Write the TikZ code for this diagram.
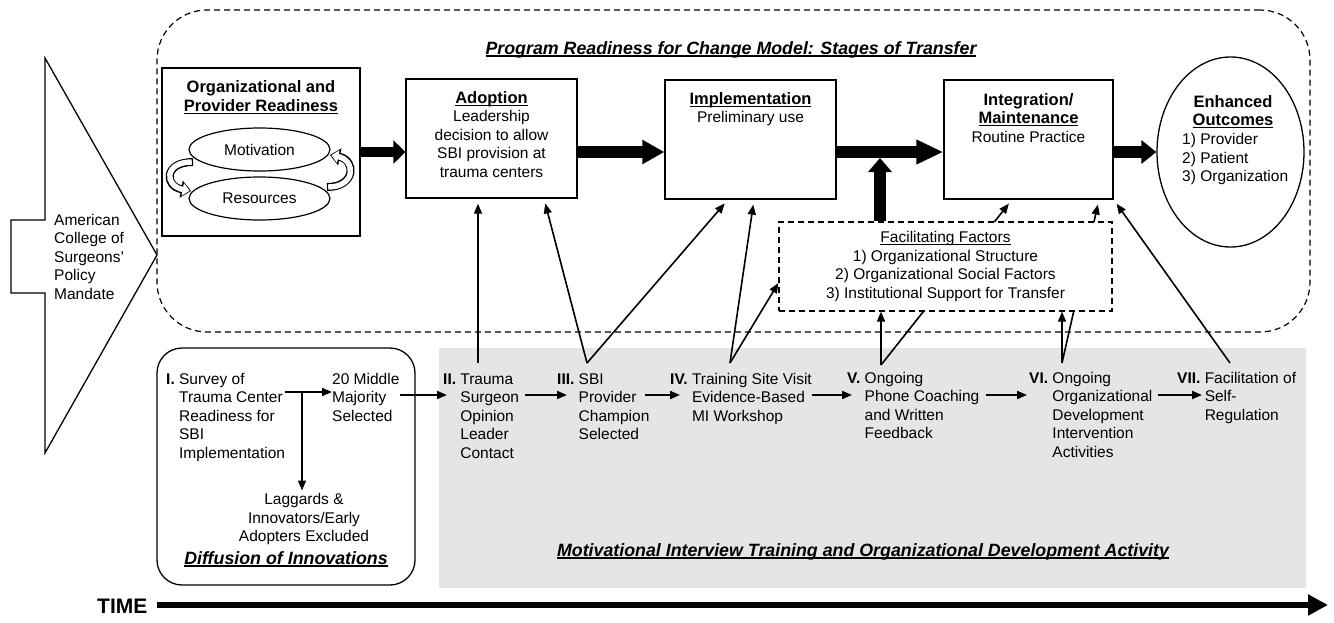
\documentclass[tikz,border=0pt]{standalone}
\usepackage{fontspec}
\setmainfont{Liberation Sans}
\usetikzlibrary{arrows.meta,shapes.geometric,calc}

\newcommand{\bodysz}{\fontsize{15.5}{18.5}\selectfont}
\newcommand{\headsz}{\fontsize{16.5}{19.5}\selectfont\bfseries}
\newcommand{\titlesz}{\fontsize{17.8}{20}\selectfont\bfseries\itshape}
\newcommand{\headtxt}[1]{{\fontsize{16.5}{18.5}\selectfont\bfseries #1}}
\newsavebox{\undlbox}
\newcommand{\undl}[1]{\sbox{\undlbox}{#1}\rlap{\rule[-2.6pt]{\wd\undlbox}{1.2pt}}\usebox{\undlbox}}

\begin{document}
\begin{tikzpicture}[
    x=1pt, y=-1pt,
    >={Triangle[length=10pt,width=8pt]},
    box/.style={
        draw,
        line width=1.3pt,
        inner sep=0pt
    },
    dashbox/.style={draw, line width=1.2pt, dash pattern=on 6pt off 4pt},
    txt/.style={font=\bodysz, inner sep=0pt, align=center},
    stage/.style={font=\bodysz, inner sep=0pt, anchor=base west},
    oval/.style={draw, ellipse, line width=1.2pt, inner sep=0pt, font=\bodysz},
    arr/.style={->, line width=1.6pt},
    steparr/.style={->, line width=2pt},
    bigarr/.style={line width=12pt, -{Triangle[length=#1,width=23pt]}},
    loopout/.style={line width=8pt, -{Triangle[length=10pt,width=17pt]}},
    loopin/.style={line width=5.4pt, white, -{Triangle[length=7pt,width=12.5pt]}, shorten >=1.4pt, shorten <=1.2pt}
]
    \useasboundingbox (0,0) rectangle (1334,622);

    \node[dashbox, rounded corners=50pt, minimum width=1153pt, minimum height=322pt]
        (transfer) at (733.5,171) {};
    \node[font=\titlesz, inner sep=0pt, anchor=base] (transfertitle) at (731,54)
        {\undl{Program Readiness for Change Model: Stages of Transfer}};

    \node[fill=black!10, minimum width=867pt, minimum height=240pt, inner sep=0pt]
        (activity) at (872.5,468) {};
    \node[box, rounded corners=25pt, minimum width=258pt, minimum height=237pt]
        (diffusion) at (286,466.5) {};

    \draw[line width=1.3pt] (45,58) -- (157,255) -- (45,453) -- (45,293)
        -- (11,293) -- (11,220) -- (45,220) -- cycle;
    \node[txt, align=left, anchor=north west] (mandate) at (54,214)
        {American\\College of\\Surgeons'\\Policy\\Mandate};

    \node[box, minimum width=198pt, minimum height=168pt] (readiness) at (261,152) {};
    \node[txt, font=\headsz, anchor=north] (readytitle) at (261,80)
        {Organizational and\\\undl{Provider Readiness}};
    \node[oval, minimum width=141pt, minimum height=43pt] (motivation) at (259.5,149.5) {Motivation};
    \node[oval, minimum width=141pt, minimum height=43pt] (resources) at (259.5,198.5) {Resources};
    \draw[loopout] (193,162) .. controls (164,162) and (164,186) .. (191,191);
    \draw[loopin] (193,162) .. controls (164,162) and (164,186) .. (191,191);
    \draw[loopout] (327,187) .. controls (356,187) and (356,160) .. (330,155);
    \draw[loopin] (327,187) .. controls (356,187) and (356,160) .. (330,155);

    \node[box, minimum width=171pt, minimum height=119pt] (adoption) at (491.5,138.5) {};
    \node[txt, anchor=north] (adopttext) at (491.5,91)
        {\headtxt{\undl{Adoption}}\\Leadership\\decision to allow\\SBI provision at\\trauma centers};

    \node[box, minimum width=171pt, minimum height=119pt] (implementation) at (750.5,139.5) {};
    \node[txt, anchor=north] (impltext) at (750.5,92)
        {\headtxt{\undl{Implementation}}\\Preliminary use};

    \node[box, minimum width=169pt, minimum height=119pt] (integration) at (1028.5,139.5) {};
    \node[txt, anchor=north] (integtext) at (1028.5,93)
        {\headtxt{Integration/}\\\headtxt{\undl{Maintenance}}\\Routine Practice};

    \node[draw, ellipse, line width=1.3pt, minimum width=147pt, minimum height=190pt, inner sep=0pt]
        (outcomes) at (1230.5,152) {};
    \node[txt, anchor=north] (outtitle) at (1233,95)
        {\headtxt{Enhanced}\\\headtxt{\undl{Outcomes}}};
    \node[txt, align=left, anchor=north west] (outlist) at (1182,133.5)
        {1) Provider\\2) Patient\\3) Organization};

    \coordinate (flow) at (0,152);
    \draw[bigarr=12pt, line width=10pt] (readiness.east) -- (readiness.east -| adoption.west);
    \draw[bigarr=22pt] (adoption.east |- flow) -- (implementation.west |- flow);
    \draw[bigarr=27pt] (implementation.east |- flow) -- (integration.west |- flow);
    \draw[bigarr=15pt] (integration.east |- flow) -- (outcomes.west);

    \coordinate (tII) at (478,363);
    \coordinate (tIII) at (587,363);
    \coordinate (tIV) at (730,363);
    \coordinate (tV) at (881,365);
    \coordinate (tVI) at (1062,363);
    \coordinate (tVII) at (1230,363);

    \draw[arr, shorten >=5pt] (tV) -- ([xshift=-16.5pt]integration.south);
    \draw[arr, shorten >=5pt] (tVI) -- ([xshift=70.5pt]integration.south);

    \node[dashbox, fill=white, minimum width=333pt, minimum height=89pt, font=\bodysz, align=center, inner sep=0pt]
        (factors) at (945.5,266.5)
        {\undl{Facilitating Factors}\\1) Organizational Structure\\2) Organizational Social Factors\\3) Institutional Support for Transfer};

    \coordinate (join) at (880,158);
    \draw[bigarr=14pt] (factors.north -| join) -- (join);

    \draw[arr, shorten >=5pt] (tII) -- (tII |- adoption.south);
    \draw[arr, shorten >=5pt] (tIII) -- ([xshift=52.5pt]adoption.south);
    \draw[arr, shorten >=5pt] (tIII) -- ([xshift=-22.5pt]implementation.south);
    \draw[arr, shorten >=5pt] (tIV) -- ([xshift=3.5pt]implementation.south);
    \draw[arr] (tIV) -- ([yshift=-16.5pt]factors.west);
    \draw[arr] (tV) -- (tV |- factors.south);
    \draw[arr] (tVI) -- (tVI |- factors.south);
    \draw[arr, shorten >=5pt] (tVII) -- (integration.south east);

    \node[stage] (survey) at (166,384)
        {\textbf{I.} \begin{tabular}[t]{@{}l@{}}Survey of\\Trauma Center\\Readiness for\\SBI\\Implementation\end{tabular}};
    \node[stage] (majority) at (332,384)
        {\begin{tabular}[t]{@{}l@{}}20 Middle\\Majority\\Selected\end{tabular}};
    \node[txt, anchor=north] (laggards) at (304,493.5)
        {Laggards \&\\Innovators/Early\\Adopters Excluded};
    \node[font=\titlesz, inner sep=0pt, anchor=base] (diffusiontitle) at (286,564)
        {\undl{Diffusion of Innovations}};
    \coordinate (split) at (302,392);
    \draw[arr] (survey.east |- split) -- (majority.west |- split);
    \draw[arr, shorten >=3pt] (split) -- (split |- laggards.north);

    \node[stage] (stII) at (443,384)
        {\textbf{II.} \begin{tabular}[t]{@{}l@{}}Trauma\\Surgeon\\Opinion\\Leader\\Contact\end{tabular}};
    \node[stage] (stIII) at (557,384)
        {\textbf{III.} \begin{tabular}[t]{@{}l@{}}SBI\\Provider\\Champion\\Selected\end{tabular}};
    \node[stage] (stIV) at (670,384)
        {\textbf{IV.} \begin{tabular}[t]{@{}l@{}}Training Site Visit\\Evidence-Based\\MI Workshop\end{tabular}};
    \node[stage] (stV) at (847,383)
        {\textbf{V.} \begin{tabular}[t]{@{}l@{}}Ongoing\\Phone Coaching\\and Written\\Feedback\end{tabular}};
    \node[stage] (stVI) at (1029,383)
        {\textbf{VI.} \begin{tabular}[t]{@{}l@{}}Ongoing\\Organizational\\Development\\Intervention\\Activities\end{tabular}};
    \node[stage] (stVII) at (1177,383)
        {\textbf{VII.} \begin{tabular}[t]{@{}l@{}}Facilitation of\\Self-\\Regulation\end{tabular}};

    \coordinate (lane) at (0,395);
    \draw[steparr] (majority.east |- lane) -- ($(stII.west |- lane)+(4,0)$);
    \draw[steparr] ($(stII.east |- lane)+(6,0)$) -- ($(stIII.west |- lane)+(10,0)$);
    \draw[steparr] ($(stIII.east |- lane)+(-5,0)$) -- ($(stIV.west |- lane)+(10,0)$);
    \draw[steparr] (stIV.east |- lane) -- ($(stV.west |- lane)+(5,0)$);
    \draw[steparr] ($(stV.east |- lane)+(6,0)$) -- ($(stVI.west |- lane)+(-2,0)$);
    \draw[steparr] ($(stVI.east |- lane)+(5,0)$) -- ($(stVII.west |- lane)+(25,0)$);

    \node[font=\titlesz, inner sep=0pt, anchor=base] (activitytitle) at (863,556)
        {\undl{Motivational Interview Training and Organizational Development Activity}};

    \node[font=\fontsize{21}{24}\selectfont\bfseries, inner sep=0pt, anchor=base west] (timelbl) at (97,613) {TIME};
    \coordinate (timeend) at (1328,605);
    \draw[line width=6.5pt, -{Triangle[length=20pt,width=20pt]}, shorten <=9pt] (timelbl.east |- timeend) -- (timeend);
\end{tikzpicture}
\end{document}
